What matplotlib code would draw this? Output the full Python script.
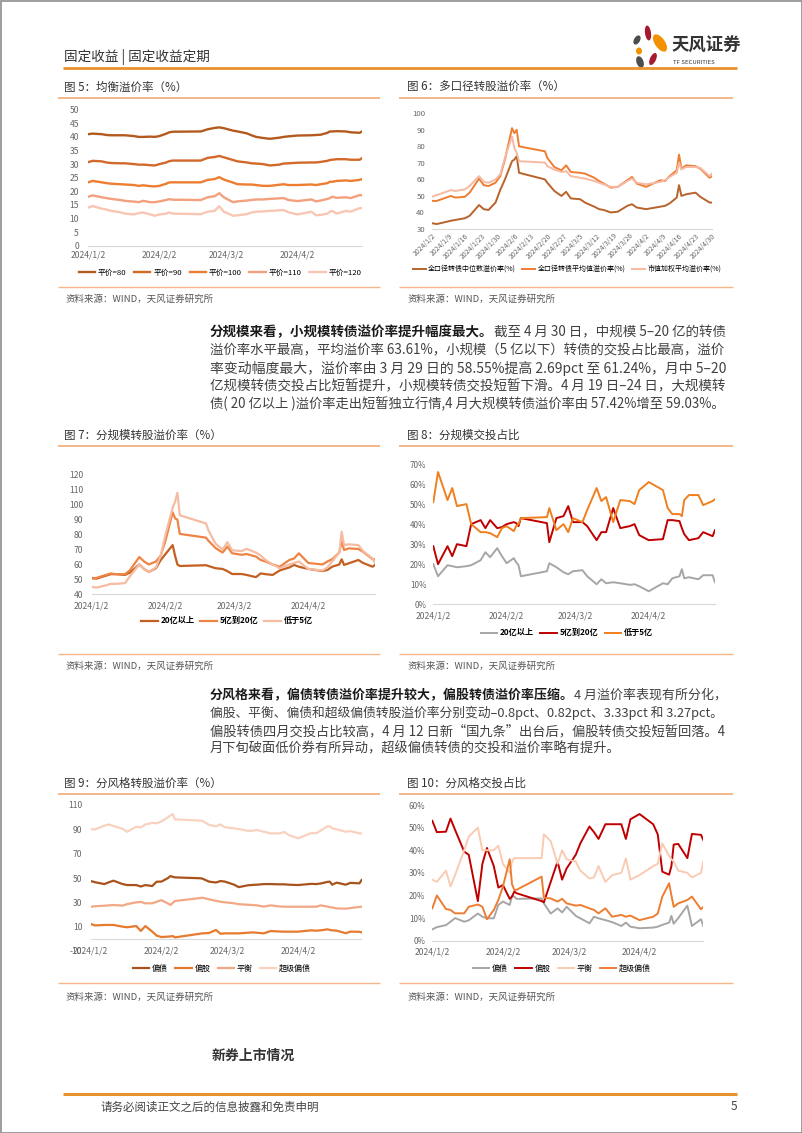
import numpy as np
import matplotlib
matplotlib.use("Agg")
import matplotlib.pyplot as plt
from matplotlib.patches import Ellipse, Rectangle

plt.rcParams['font.family'] = ['Noto Sans CJK SC', 'DejaVu Sans']
plt.rcParams['axes.unicode_minus'] = False

# ---------------- data ----------------
dates = np.array([
    '2024-01-02', '2024-01-04', '2024-01-08', '2024-01-10', '2024-01-12', '2024-01-16',
    '2024-01-18', '2024-01-22', '2024-01-24', '2024-01-26', '2024-01-29', '2024-01-31',
    '2024-02-02', '2024-02-05', '2024-02-06', '2024-02-07', '2024-02-08', '2024-02-19',
    '2024-02-20', '2024-02-23', '2024-02-26', '2024-02-28', '2024-03-01', '2024-03-05',
    '2024-03-07', '2024-03-11', '2024-03-13', '2024-03-15', '2024-03-18', '2024-03-21',
    '2024-03-25', '2024-03-27', '2024-03-29', '2024-04-02', '2024-04-08', '2024-04-10',
    '2024-04-12', '2024-04-15', '2024-04-16', '2024-04-17', '2024-04-19', '2024-04-23',
    '2024-04-25', '2024-04-29', '2024-04-30'], dtype='datetime64[D]')

month_ticks = ['2024/1/2', '2024/2/2', '2024/3/2', '2024/4/2']
week_ticks = ['2024/1/2', '2024/1/9', '2024/1/16', '2024/1/23', '2024/1/30', '2024/2/6',
              '2024/2/13', '2024/2/20', '2024/2/27', '2024/3/5', '2024/3/12', '2024/3/19',
              '2024/3/26', '2024/4/2', '2024/4/9', '2024/4/16', '2024/4/23', '2024/4/30']

# Fig 5 均衡溢价率
c5_labels = ['平价=80', '平价=90', '平价=100', '平价=110', '平价=120']
p80 = [41, 41.2, 41, 40.7, 40.6, 40.6, 40.6, 40.3, 40, 40, 40.1, 40, 40.3, 41.2, 41.6, 41.8, 41.9, 42, 42, 42.8,
       43.3, 43.5, 43.2, 42.3, 42, 41.3, 40.6, 40, 39.6, 39.3, 39.7, 40, 40.2, 40.5, 40.6, 40.7, 40.8, 41.5, 42, 42,
       42.1, 42, 41.7, 41.5, 42]
p90 = [30.7, 31.2, 31, 30.6, 30.4, 30.3, 30.3, 30, 29.8, 29.8, 29.6, 29.5, 30, 30.6, 31, 31.2, 31.3, 31.3, 31.3, 32.3,
       32.6, 33, 32.5, 31.5, 31, 30.6, 30.3, 30.2, 30, 29.5, 29.8, 30.2, 30.3, 30.5, 30.6, 30.6, 30.8, 31.2, 31.5, 31.6,
       31.8, 31.8, 31.6, 31.6, 32.2]
p100 = [23.3, 23.8, 23.3, 23, 22.8, 22.6, 22.5, 22.3, 22, 22.2, 21.9, 21.8, 22, 22.8, 23.2, 23.3, 23.3, 23.3, 23.3, 24.2,
        24.5, 25.2, 24.3, 23.2, 22.6, 22.5, 22.5, 22.3, 22, 22, 22.4, 22.6, 22.3, 22.3, 22.5, 22.3, 22.6, 23, 23.5, 23.5,
        23.8, 24, 23.8, 24.2, 24.5]
p110 = [18, 18.5, 17.8, 17.5, 17.2, 16.8, 16.5, 16.2, 16, 16.5, 16, 16, 16.3, 16.8, 17.1, 17, 16.9, 16.8, 16.8, 17.8,
        18.2, 19.3, 17.8, 16, 16.3, 16.6, 16.8, 17, 17, 17.2, 17.4, 17.5, 16.8, 16.4, 17, 16.3, 16.6, 17.2, 17.5, 18,
        17.6, 17.8, 17.5, 18.6, 18.5]
p120 = [14, 14.6, 13.6, 13.3, 12.8, 12.3, 11.8, 11.5, 12, 12.2, 11.5, 11, 11.5, 11.8, 12.2, 12, 11.8, 11.6, 11.6, 12.5,
        12.8, 14.5, 12.5, 11, 11.2, 11.6, 12.2, 12.5, 12.6, 12.8, 13, 13.1, 12.3, 11.5, 12.5, 11.2, 11.3, 11.8, 12.5, 12.8,
        11.8, 12.8, 12.5, 13.8, 13.8]

# Fig 6 多口径转股溢价率
c6_labels = ['全口径转债中位数溢价率(%)', '全口径转债平均值溢价率(%)', '市值加权平均溢价率(%)']
median6 = [33.5, 33, 34.3, 35, 35.5, 36.5, 38, 44.5, 42, 41.5, 46, 53.6, 60, 71, 72, 74, 64, 60, 58, 53,
           50, 52.5, 48.5, 48, 46, 43.5, 42, 41.5, 40, 40.5, 44, 45, 43, 42, 43.5, 44, 45.5, 49, 56.5, 50,
           51, 52, 49.5, 46, 46]
mean6 = [47, 47, 49, 50, 49, 49.5, 52, 60.5, 56.5, 56, 58, 62, 72, 91, 88, 90, 80, 77, 73, 67.5,
         65.5, 68.5, 64.5, 64, 63.5, 61, 59, 57.5, 55, 55.5, 59.5, 61.5, 57.5, 55.5, 59.5, 59, 62, 65.5, 75, 66.5,
         68.5, 68, 66.5, 61, 62]
wavg6 = [49.5, 50.5, 52.5, 53.5, 53, 54, 56, 62, 58.5, 58, 60, 63, 73, 86, 79, 76, 71, 70.2, 68, 66,
         64.5, 65, 62, 61, 60.5, 59, 58, 57, 55.5, 55.5, 59, 60.5, 58, 57, 58.5, 59.5, 61.5, 64, 70, 66,
         67.5, 67.5, 67, 62, 63.5]

# Fig 7 / Fig 8 分规模
size_labels = ['20亿以上', '5亿到20亿', '低于5亿']
big7 = [51, 50.5, 52.5, 53.5, 53.5, 53, 54.5, 60, 57, 55, 57.5, 63, 67, 73, 66, 60, 59, 59.5, 59, 57.5,
        57, 55.5, 53.6, 53.6, 53, 51.5, 54, 53.5, 53, 56, 58, 59.7, 58.5, 57, 55.6, 56.3, 58.5, 60, 63.5, 59.7,
        60.8, 63, 61, 58.5, 59.7]
mid7 = [50.5, 51, 53, 54, 53.5, 53.5, 56, 65, 62, 60, 62, 66, 76, 95, 91, 90, 80.5, 78, 76, 71,
        68, 72, 67.5, 66.5, 67, 65.3, 63, 62, 60, 58.5, 63, 64, 67.5, 61, 60, 62, 63.5, 68, 76, 69.7,
        70.8, 70.4, 68.5, 63.5, 63.5]
small7 = [45, 44.5, 46, 47, 47, 47.5, 52, 60, 57, 55, 58, 66, 80, 98, 102, 108, 93, 87.5, 83, 74,
          70, 75, 69.5, 69, 70.5, 68, 66, 63, 60, 57.5, 60, 61, 62, 57, 56, 58, 62, 68, 82, 73,
          73.5, 73, 69, 64, 61]
big8 = [20, 14, 19.5, 19, 18.5, 19, 19.5, 22, 26, 23.5, 28, 24, 20.5, 23, 21, 19.5, 14, 16.5, 20.5, 18.5,
        16, 15, 16.5, 17, 14, 10, 12.5, 10.5, 11, 10.5, 9.7, 10, 9, 6.5, 10.5, 10, 13, 14, 17.5, 13,
        13.5, 12.5, 14.5, 14.5, 11]
mid8 = [29, 20, 29, 24, 30, 29, 40, 42, 38, 42, 38, 38.5, 40, 41, 40.5, 39, 43, 40.5, 31, 43,
        44, 49, 41, 41, 39, 32, 36, 36, 48, 38, 39, 40, 34.5, 32, 32.5, 42, 42, 41.5, 38, 35,
        32, 33, 36, 34, 37]
small8 = [51, 66, 52, 58, 49, 50, 40, 36, 36, 35.5, 33.5, 38, 39, 36.5, 39, 40, 43, 43.5, 48, 37,
          40, 36, 43, 41, 47, 58, 51.5, 53.5, 41, 52, 51.5, 50, 57, 61, 57, 48, 45, 45, 44, 52,
          54.5, 54.5, 49.5, 51.5, 52.5]

# Fig 9 / Fig 10 分风格
style_labels = ['偏债', '偏股', '平衡', '超级偏债']
bond9 = [47.5, 46.5, 45, 46.5, 47.8, 45, 44.2, 44.2, 43, 44.2, 43.4, 47, 47, 50, 51.6, 51, 50.5, 49.8, 49.5, 47,
         46.3, 47.5, 47, 44.5, 42.5, 44, 44.3, 44.5, 45, 45, 44.8, 44.8, 44.5, 44.2, 45.2, 45, 45.5, 46.8, 47, 44.5,
         46.2, 44.5, 46, 45.6, 48.4]
equity9 = [12.2, 11, 11.4, 11.4, 11.4, 10, 9.5, 10.5, 6.5, 10.5, 6, 2.6, 1.5, 1.8, 2, 2.3, 1.2, 4.2, 4.5, 4.8,
           7.3, 4.2, 4.5, 4.5, 4.5, 5, 5.3, 5, 4.5, 6.4, 6, 5.9, 5.9, 5.9, 7, 6.7, 7, 7.8, 7.3, 7,
           6.7, 4.6, 5.9, 5.8, 5.3]
balance9 = [26.4, 26.8, 27.2, 27.5, 27.8, 27.3, 28.5, 30, 30.3, 29.2, 29.2, 30.5, 31.8, 29, 27.8, 29.5, 31.1, 33.5,
            33.8, 32.5, 31.2, 30.5, 30, 29.2, 28.5, 28, 27.8, 27.5, 26.5, 27.5, 26.6, 26.4, 26.4, 26.4, 26.4, 26.4,
            27.5, 26.5, 26, 25.8, 25, 24.8, 25.3, 26.2, 26.4]
super9 = [90, 90, 93, 94, 92.7, 90.5, 88, 92.2, 91.5, 94, 95.3, 95, 96.5, 100, 101.5, 102.5, 98.2, 97.2, 97, 93.6,
          92.5, 94, 91.6, 90.8, 90.2, 88.8, 88.8, 89.5, 88, 86.7, 86.7, 87.8, 85.3, 82.6, 87, 86.7, 89, 92.5, 92.5,
          90.8, 90, 88, 88.5, 86.7, 86.7]
bond10 = [5, 6, 6.9, 8.4, 10, 8.4, 9, 12, 10.6, 9.9, 9.9, 15.8, 17.3, 15.8, 19.8, 19.5, 18.5, 18.7, 16.5, 12,
          14.3, 12.5, 15, 11, 9.9, 7.7, 10.6, 9.9, 9.1, 8.2, 6.5, 8, 6.2, 5.5, 5.8, 6.2, 7, 8, 11, 7.5,
          10, 15.5, 6.5, 9.5, 6.5]
equity10 = [53, 48, 48.2, 54, 49, 39.4, 38, 17.5, 34, 41, 33, 23.5, 24.6, 18.5, 19.5, 21.7, 21, 17.5, 17, 26,
            35, 27, 32, 38, 43, 50.5, 48, 45, 51.5, 51.5, 51.5, 45, 53.7, 56, 51.5, 47, 30.5, 29.2, 33, 42.5,
            42.8, 36.5, 47.2, 46.8, 44.5]
balance10 = [27, 26, 31, 24, 29, 40, 46, 50, 40, 40, 40, 42, 34, 30, 35, 36.5, 36.5, 36.5, 47, 44,
             34, 40, 36, 35, 31, 27.5, 28, 33, 26, 29, 30, 36.4, 27, 29, 33, 34, 43, 37.5, 36, 35,
             31, 30, 28, 30, 35]
super10 = [14.3, 20, 14, 13.6, 12.1, 12.1, 15, 16, 15, 9.5, 13.6, 18, 23.9, 36, 25, 22.4, 22.5, 28.3, 19, 18.7,
           17.3, 18.5, 16.5, 15.5, 15.8, 14.3, 13.6, 12.1, 14.3, 10.6, 11.4, 10.6, 11.1, 9.1, 10.6, 12, 19.5, 25.4,
           20, 15, 16.5, 18, 19.5, 13.9, 15]

# ---------------- page ----------------
W, H = 802, 1133
fig = plt.figure(figsize=(W / 100, H / 100), dpi=100)
fig.patch.set_facecolor('white')
bg = fig.add_axes([0, 0, 1, 1])
bg.set_xlim(0, W)
bg.set_ylim(H, 0)
bg.axis('off')

HEAD_ORANGE = '#E8922C'
SUB_LINE = '#F3B789'
TICK_C = '#666666'

bg.add_patch(Rectangle((0.5, 0.5), W - 1, H - 1, fill=False, edgecolor='#8C8C8C', lw=1.2))

# header
bg.text(64, 57, '固定收益 | 固定收益定期', fontsize=9.8, color='#333333', va='center')
bg.plot([63, 737], [68, 68], color=HEAD_ORANGE, lw=2.0, solid_capstyle='butt')
for (cx, cy, w, h, a, c) in [(648, 33, 6, 15, -8, '#A6192E'), (660, 43, 10, 20, -35, '#F39200'),
                              (637, 40, 6, 10, 30, '#4D4D4D'), (639, 51, 6, 7, 0, '#F39200'),
                              (640, 62, 7, 12, -20, '#4D4D4D'), (653, 59, 6, 13, 25, '#A6192E')]:
    bg.add_patch(Ellipse((cx, cy), w, h, angle=a, color=c, lw=0))
bg.text(671, 46, '天风证券', fontsize=12.5, fontweight='bold', color='#333333', va='center')
bg.text(673, 63, 'TF SECURITIES', fontsize=4.3, color='#333333', va='center')


def chart_title(x, y, s, x0, x1, yline):
    bg.text(x, y, s, fontsize=8.3, color='#333333', va='center')
    bg.plot([x0, x1], [yline, yline], color=SUB_LINE, lw=1.4, solid_capstyle='butt')


def source(x, y, x0, x1, yline):
    bg.plot([x0, x1], [yline, yline], color=SUB_LINE, lw=1.0, solid_capstyle='butt')
    bg.text(x, y, '资料来源：WIND，天风证券研究所', fontsize=6.8, color='#555555', va='center')


L0, L1, R0, R1 = 58, 380, 399, 733
chart_title(64, 87, '图 5：均衡溢价率（%）', L0, L1, 98)
chart_title(407, 87, '图 6：多口径转股溢价率（%）', R0, R1, 98)
chart_title(64, 435, '图 7：分规模转股溢价率（%）', L0, L1, 446)
chart_title(407, 435, '图 8：分规模交投占比', R0, R1, 446)
chart_title(64, 783, '图 9：分风格转股溢价率（%）', L0, L1, 794)
chart_title(407, 783, '图 10：分风格交投占比', R0, R1, 794)
source(66, 299, L0, L1, 287)
source(407, 299, R0, R1, 287)
source(66, 666, L0, L1, 654)
source(407, 666, R0, R1, 654)
source(66, 997, L0, L1, 983)
source(407, 997, R0, R1, 983)

XMIN, XMAX = np.datetime64('2024-01-02'), np.datetime64('2024-04-30')


def to_date(lbl):
    y, m, d = lbl.split('/')
    return np.datetime64(f'{y}-{int(m):02d}-{int(d):02d}')


def mk_ax(x0, x1, ytop, ybot):
    ax = fig.add_axes([x0 / W, 1 - ybot / H, (x1 - x0) / W, (ybot - ytop) / H])
    ax.set_facecolor('none')
    for s in ('top', 'right', 'left'):
        ax.spines[s].set_visible(False)
    ax.spines['bottom'].set_color('#D9D9D9')
    ax.spines['bottom'].set_linewidth(0.8)
    ax.tick_params(length=0, labelsize=6.2, labelcolor=TICK_C)
    ax.set_xlim(XMIN, XMAX)
    return ax


def month_axis(ax, xpad):
    ax.set_xticks([to_date(t) for t in month_ticks])
    ax.set_xticklabels(month_ticks)
    ax.tick_params(axis='x', pad=xpad)


def legend(ax, handles, labels, cx, cy, fs=6.0, bold=False, hl=2.0, cs=0.8):
    prop = {'size': fs}
    if bold:
        prop['weight'] = 'bold'
    ax.legend(handles, labels, loc='center', bbox_to_anchor=(cx / W, 1 - cy / H),
              bbox_transform=fig.transFigure, ncol=len(labels), frameon=False, prop=prop,
              handlelength=hl, handletextpad=0.35, columnspacing=cs, borderpad=0)


# ---- Fig 5
ax5 = mk_ax(88, 362, 109.7, 245.7)
cols5 = ['#B35A1F', '#D2692A', '#ED7D31', '#F3A07E', '#F8C6B2']
hs = []
for v, c in zip([p80, p90, p100, p110, p120], cols5):
    hs += ax5.plot(dates, v, color=c, lw=1.7, solid_joinstyle='round')
ax5.set_ylim(0, 50)
ax5.set_yticks(range(0, 51, 5))
ax5.tick_params(axis='y', pad=6.5)
month_axis(ax5, 3.5)
legend(ax5, hs, c5_labels, 220, 273, fs=5.6, hl=2.1, cs=1.0)

# ---- Fig 6
ax6 = mk_ax(432, 712, 113.3, 229)
cols6 = ['#B8632A', '#ED7D31', '#F6B9A3']
hs = []
for v, c in zip([median6, mean6, wavg6], cols6):
    hs += ax6.plot(dates, v, color=c, lw=1.4, solid_joinstyle='round')
ax6.set_ylim(30, 100)
ax6.set_yticks(range(30, 101, 10))
ax6.tick_params(axis='y', pad=5, labelsize=5.6)
ax6.set_xticks([to_date(t) for t in week_ticks])
ax6.set_xticklabels(week_ticks, rotation=45, ha='right', rotation_mode='anchor', fontsize=4.9)
ax6.tick_params(axis='x', pad=2)
legend(ax6, hs, c6_labels, 567, 269, fs=5.0, hl=1.9, cs=0.9)

# ---- Fig 7
ax7 = mk_ax(91.7, 375, 475, 594.3)
cols7 = ['#C45F22', '#EE8443', '#F6BCA2']
hs = []
for v, c in zip([big7, mid7, small7], cols7):
    hs += ax7.plot(dates, v, color=c, lw=1.6, solid_joinstyle='round')
ax7.set_ylim(40, 120)
ax7.set_yticks(range(40, 121, 10))
ax7.tick_params(axis='y', pad=6)
month_axis(ax7, 5)
legend(ax7, hs, size_labels, 227, 621, fs=5.9, bold=True, hl=2.0, cs=0.7)

# ---- Fig 8
ax8 = mk_ax(433.3, 715, 464, 604.3)
cols8 = ['#A6A6A6', '#C00000', '#F07F1E']
hs = []
for v, c in zip([big8, mid8, small8], cols8):
    hs += ax8.plot(dates, v, color=c, lw=1.4, solid_joinstyle='round')
ax8.set_ylim(0, 70)
ax8.set_yticks(range(0, 71, 10))
ax8.set_yticklabels([f'{v}%' for v in range(0, 71, 10)])
ax8.tick_params(axis='y', pad=5, labelsize=5.8)
month_axis(ax8, 5)
legend(ax8, hs, size_labels, 567, 633, fs=5.9, bold=True, hl=2.0, cs=0.8)

# ---- Fig 9
ax9 = mk_ax(90.7, 361.7, 805, 951)
ax9.spines['bottom'].set_visible(False)
ax9.axhline(0, color='#D9D9D9', lw=0.8)
cols9 = ['#A8531C', '#E67A2E', '#F2A785', '#F9D2BF']
hs = []
for v, c in zip([bond9, equity9, balance9, super9], cols9):
    hs += ax9.plot(dates, v, color=c, lw=1.6, solid_joinstyle='round')
ax9.set_ylim(-10, 110)
ax9.set_yticks(range(-10, 111, 20))
ax9.tick_params(axis='y', pad=6)
month_axis(ax9, -3.5)
legend(ax9, hs, style_labels, 222, 968, fs=5.8, hl=2.0, cs=0.9)

# ---- Fig 10
ax10 = mk_ax(432.3, 703.3, 805, 940.7)
cols10 = ['#A6A6A6', '#C00000', '#F9CBB2', '#ED7D31']
hs = []
for v, c in zip([bond10, equity10, balance10, super10], cols10):
    hs += ax10.plot(dates, v, color=c, lw=1.4, solid_joinstyle='round')
ax10.set_ylim(0, 60)
ax10.set_yticks(range(0, 61, 10))
ax10.set_yticklabels([f'{v}%' for v in range(0, 61, 10)])
ax10.tick_params(axis='y', pad=5, labelsize=5.8)
month_axis(ax10, 5)
legend(ax10, hs, style_labels, 562, 968, fs=5.8, hl=2.0, cs=0.9)

# ---------------- paragraphs ----------------
renderer = fig.canvas.get_renderer()
FS = 9.5
PX0, PX1 = 210, 728


def draw_parts(x, y, parts, fs):
    arts = []
    for s, bold in parts:
        t = bg.text(x, y, s, fontsize=fs, fontweight='bold' if bold else 'normal',
                    color='#1A1A1A' if bold else '#404040', va='center', ha='left')
        arts.append(t)
        x += t.get_window_extent(renderer=renderer).width
    return arts, x


def rich_line(y, parts, justify):
    arts, xend = draw_parts(PX0, y, parts, FS)
    if justify:
        scale = (PX1 - PX0) / (xend - PX0)
        scale = min(max(scale, 0.94), 1.06)
        for a in arts:
            a.remove()
        draw_parts(PX0, y, parts, FS * scale)


para1 = [
    [('分规模来看，小规模转债溢价率提升幅度最大。', True), ('截至 4 月 30 日，中规模 5–20 亿的转债', False)],
    [('溢价率水平最高，平均溢价率 63.61%，小规模（5 亿以下）转债的交投占比最高，溢价', False)],
    [('率变动幅度最大，溢价率由 3 月 29 日的 58.55%提高 2.69pct 至 61.24%，月中 5–20', False)],
    [('亿规模转债交投占比短暂提升，小规模转债交投短暂下滑。4 月 19 日–24 日，大规模转', False)],
    [('债( 20 亿以上 )溢价率走出短暂独立行情,4 月大规模转债溢价率由 57.42%增至 59.03%。', False)],
]
for i, parts in enumerate(para1):
    rich_line(332 + 18 * i, parts, True)

para2 = [
    [('分风格来看，偏债转债溢价率提升较大，偏股转债溢价率压缩。', True), ('4 月溢价率表现有所分化，', False)],
    [('偏股、平衡、偏债和超级偏债转股溢价率分别变动–0.8pct、0.82pct、3.33pct 和 3.27pct。', False)],
    [('偏股转债四月交投占比较高，4 月 12 日新“国九条”出台后，偏股转债交投短暂回落。4', False)],
    [('月下旬破面低价券有所异动，超级偏债转债的交投和溢价率略有提升。', False)],
]
for i, parts in enumerate(para2):
    rich_line(695 + 18 * i, parts, i < len(para2) - 1)

bg.text(212, 1056, '新券上市情况', fontsize=10, fontweight='bold', color='#333333', va='center')

# footer
bg.plot([63, 737], [1094, 1094], color=HEAD_ORANGE, lw=2.2, solid_capstyle='butt')
bg.text(100, 1107, '请务必阅读正文之后的信息披露和免责申明', fontsize=8.3, color='#444444', va='center')
bg.text(737, 1107, '5', fontsize=8.5, color='#444444', va='center', ha='right')

fig.savefig('out.png', dpi=100, facecolor='white')
